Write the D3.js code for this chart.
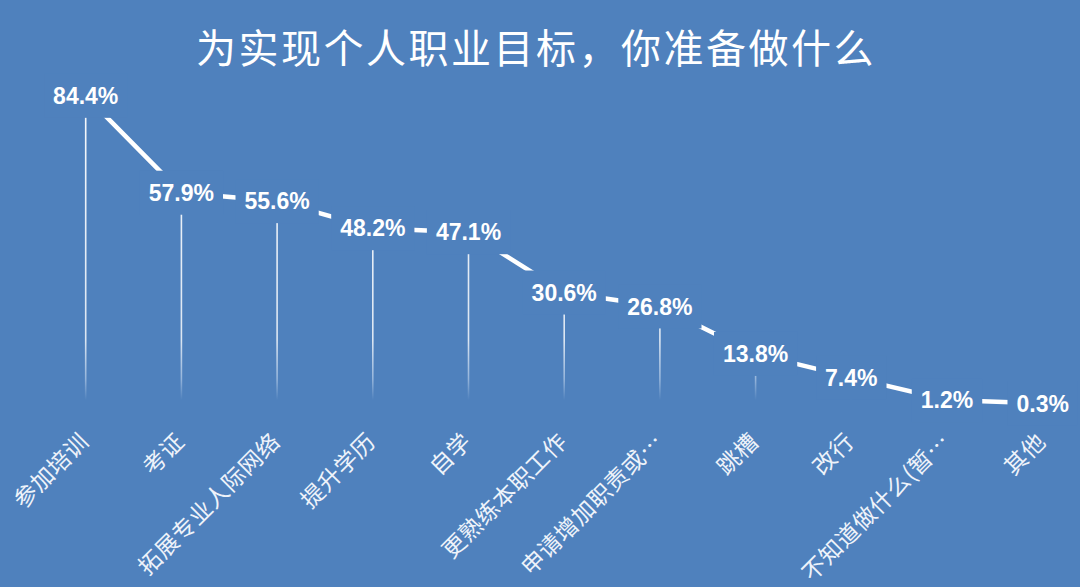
<!DOCTYPE html>
<html>
<head>
<meta charset="utf-8">
<script src="https://d3js.org/d3.v7.min.js"></script>
<style>
    body { margin: 0; background: #4f81bd; }
    svg { display: block; }
</style>
</head>
<body>
<div id="chart"></div>
<script>
// data
var categories = ["参加培训", "考证", "拓展专业人际网络", "提升学历", "自学", "更熟练本职工作",
    "申请增加职责或…", "跳槽", "改行", "不知道做什么(暂…", "其他"];
var values = [84.4, 57.9, 55.6, 48.2, 47.1, 30.6, 26.8, 13.8, 7.4, 1.2, 0.3];
var title = "为实现个人职业目标，你准备做什么";

var svg_width = 1080, svg_height = 587, bg = "#4f81bd";

var svg = d3.select("#chart").append("svg")
    .attr("width", svg_width)
    .attr("height", svg_height);

svg.append("rect")
    .attr("width", svg_width)
    .attr("height", svg_height)
    .attr("fill", bg);

var data = categories.map(function(c, i) { return {name: c, value: values[i]}; });

var x = d3.scalePoint()
    .domain(categories)
    .range([85.7, 1042.7]);

var y = d3.scaleLinear()
    .domain([0, 100])
    .range([404.4, 38.8]);

// fading drop lines
var grad = svg.append("defs").append("linearGradient")
    .attr("id", "drop")
    .attr("gradientUnits", "userSpaceOnUse")
    .attr("x1", 0).attr("x2", 0)
    .attr("y1", 100).attr("y2", 400);
grad.append("stop").attr("offset", "0").attr("stop-color", "#fff").attr("stop-opacity", 0.95);
grad.append("stop").attr("offset", "0.8").attr("stop-color", "#fff").attr("stop-opacity", 0.8);
grad.append("stop").attr("offset", "0.93").attr("stop-color", "#dbe8f8").attr("stop-opacity", 0.5);
grad.append("stop").attr("offset", "1").attr("stop-color", "#dbe8f8").attr("stop-opacity", 0);

svg.append("g")
    .selectAll("line")
    .data(data)
    .enter().append("line")
    .attr("x1", function(d) { return x(d.name); })
    .attr("x2", function(d) { return x(d.name); })
    .attr("y1", function(d) { return y(d.value); })
    .attr("y2", 400)
    .attr("stroke", "url(#drop)")
    .attr("stroke-width", 1.6);

var line = d3.line()
    .x(function(d) { return x(d.name); })
    .y(function(d) { return y(d.value); });

svg.append("path")
    .datum(data)
    .attr("d", line)
    .attr("fill", "none")
    .attr("stroke", "#fff")
    .attr("stroke-width", 4.5);

// value labels sitting on the points, with a box that hides the line
var labels = svg.append("g")
    .selectAll("g")
    .data(data)
    .enter().append("g")
    .attr("transform", function(d) { return "translate(" + x(d.name) + "," + y(d.value) + ")"; });

labels.append("rect").attr("fill", bg);

labels.append("text")
    .attr("text-anchor", "middle")
    .attr("dy", "0.36em")
    .attr("fill", "#fff")
    .attr("font-family", "'Liberation Sans', Arial, sans-serif")
    .attr("font-weight", "bold")
    .attr("font-size", 23)
    .text(function(d) { return d3.format(".1f")(d.value) + "%"; });

labels.each(function() {
    var g = d3.select(this),
        w = g.select("text").node().getComputedTextLength() + 18;
    g.select("rect")
        .attr("x", -w / 2)
        .attr("y", -22)
        .attr("width", w)
        .attr("height", 44);
});

// category axis
var xAxis = svg.append("g")
    .attr("transform", "translate(0,430)")
    .call(d3.axisBottom(x).tickSize(0).tickPadding(0));

xAxis.select(".domain").remove();

xAxis.selectAll("text")
    .attr("x", 0)
    .attr("y", 0)
    .attr("dy", 0)
    .attr("transform", "translate(4,13) rotate(-45)")
    .attr("text-anchor", "end")
    .attr("fill", "#eef3fa")
    .attr("font-family", "'Noto Sans CJK SC', sans-serif")
    .attr("font-size", 23)
    .attr("letter-spacing", 0.6);

svg.append("text")
    .attr("x", 536)
    .attr("y", 45.6)
    .attr("text-anchor", "middle")
    .attr("dominant-baseline", "central")
    .attr("fill", "#fff")
    .attr("font-family", "'Noto Sans CJK SC', sans-serif")
    .attr("font-size", 40)
    .attr("letter-spacing", 2.5)
    .text(title);
</script>
</body>
</html>
